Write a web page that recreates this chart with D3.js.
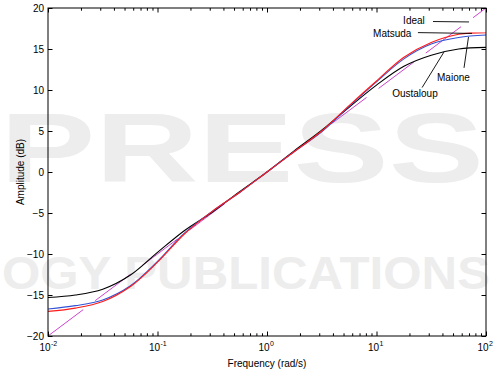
<!DOCTYPE html>
<html>
<head>
<meta charset="utf-8">
<title>Amplitude</title>
<script src="https://cdn.jsdelivr.net/npm/d3@7"></script>
<style>
	body { margin: 0; background: #fff; }
	text { font-family: "Liberation Sans", Arial, sans-serif; }
</style>
</head>
<body>
<div id="chart"></div>
<script>
(function(){
	"use strict";

	// frequency grid (rad/s), quarter decades
	var freq = [0.01, 0.0178, 0.0316, 0.0562, 0.1, 0.178, 0.316, 0.562, 1, 1.78, 3.16, 5.62, 10, 17.8, 31.6, 56.2, 100];

	// amplitude (dB) of each approximation
	var oustaloup = [-15.3, -15.0, -14.3, -12.6, -9.8, -7.1, -4.9, -2.4, 0, 2.6, 5.1, 7.9, 10.6, 12.9, 14.25, 15.0, 15.2];
	var maione    = [-16.7, -16.3, -15.6, -13.9, -10.9, -7.4, -4.8, -2.5, 0, 2.5, 4.9, 8.0, 11.0, 13.8, 15.6, 16.4, 16.7];
	var matsuda   = [-17.0, -16.6, -15.8, -14.0, -11.0, -7.5, -4.8, -2.5, 0, 2.5, 5.0, 8.1, 11.1, 14.0, 15.8, 16.8, 17.0];

	// ideal response
	var idealFreq = [0.01, 100];
	var idealAmp = [-20, 20];

	// ticks
	var yTicks = [-20, -15, -10, -5, 0, 5, 10, 15, 20];
	var xTickExp = [-2, -1, 0, 1, 2];

	// annotations: label, text pos, leader from, leader to (freq, dB)
	var notes = [
		{ name: "Ideal",     at: [17.5, 18.0],  from: [32.8, 18.35], to: [70, 18.3] },
		{ name: "Matsuda",   at: [9.3, 16.46],  from: [23.9, 17.0],  to: [74.5, 16.9] },
		{ name: "Maione",    at: [35.7, 11.04], from: [63, 12.7],    to: [69.2, 16.46] },
		{ name: "Oustaloup", at: [13.9, 9.09],  from: [26.1, 10.3],  to: [41.3, 14.63] }
	];

	var W = 494, H = 374;
	var margin = { top: 8, right: 8, bottom: 38, left: 48 };
	var width = W - margin.left - margin.right;
	var height = H - margin.top - margin.bottom;

	var svg = d3.select("#chart").append("svg")
		.attr("width", W)
		.attr("height", H);

	// faint watermark behind the plot
	svg.append("text")
		.attr("x", 0).attr("y", 182)
		.attr("textLength", 484)
		.attr("lengthAdjust", "spacingAndGlyphs")
		.style("font-size", "98px").style("font-weight", "bold")
		.style("fill", "#ededed")
		.text("PRESS");
	svg.append("text")
		.attr("x", 2).attr("y", 289)
		.attr("textLength", 488)
		.attr("lengthAdjust", "spacingAndGlyphs")
		.style("font-size", "46px").style("font-weight", "bold")
		.style("fill", "#ededed")
		.text("OGY PUBLICATIONS");

	var g = svg.append("g")
		.attr("transform", "translate(" + margin.left + "," + margin.top + ")");

	var x = d3.scaleLog().domain([0.01, 100]).range([0, width]);
	var y = d3.scaleLinear().domain([-20, 20]).range([height, 0]);

	// minor ticks 2..9 of each decade
	var minor = [];
	xTickExp.slice(0, -1).forEach(function(e){
		for (var k = 2; k <= 9; k++) minor.push(k * Math.pow(10, e));
	});
	var major = xTickExp.map(function(e){ return Math.pow(10, e); });

	g.append("defs").append("clipPath").attr("id", "clip")
		.append("rect").attr("width", width).attr("height", height);

	var line = d3.line()
		.x(function(d){ return x(d[0]); })
		.y(function(d){ return y(d[1]); })
		.curve(d3.curveCatmullRom.alpha(0.5));

	var plot = g.append("g").attr("clip-path", "url(#clip)");

	plot.append("path")
		.datum(d3.zip(idealFreq, idealAmp))
		.attr("d", line)
		.attr("fill", "none")
		.attr("stroke", "#cc44cc")
		.attr("stroke-width", 1)
		.attr("stroke-dasharray", "44,15");

	var series = [
		{ values: oustaloup, color: "#000000" },
		{ values: maione, color: "#3352d6" },
		{ values: matsuda, color: "#ff1a1a" }
	];
	series.forEach(function(s){
		plot.append("path")
			.datum(d3.zip(freq, s.values))
			.attr("d", line)
			.attr("fill", "none")
			.attr("stroke", s.color)
			.attr("stroke-width", 1.1);
	});

	function style(ax){
		ax.select(".domain").remove();
		ax.selectAll("line").attr("stroke", "#000");
		ax.selectAll("text").style("font-size", "10px").attr("fill", "#000");
	}

	// left / right axes
	var yl = g.append("g").call(d3.axisLeft(y).tickValues(yTicks).tickSize(-4.5).tickPadding(4));
	style(yl);
	var yr = g.append("g").attr("transform", "translate(" + width + ",0)")
		.call(d3.axisRight(y).tickValues(yTicks).tickSize(-4.5).tickFormat(""));
	style(yr);

	// bottom / top axes, major and minor
	var xb = g.append("g").attr("transform", "translate(0," + height + ")")
		.call(d3.axisBottom(x).tickValues(major).tickSize(-4.5).tickFormat(""));
	style(xb);
	var xbm = g.append("g").attr("transform", "translate(0," + height + ")")
		.call(d3.axisBottom(x).tickValues(minor).tickSize(-2.7).tickFormat(""));
	style(xbm);
	var xt = g.append("g")
		.call(d3.axisTop(x).tickValues(major).tickSize(-4.5).tickFormat(""));
	style(xt);
	var xtm = g.append("g")
		.call(d3.axisTop(x).tickValues(minor).tickSize(-2.7).tickFormat(""));
	style(xtm);

	// 10^n labels
	var lab = xb.selectAll(".tick").data(xTickExp);
	lab.append("text")
		.attr("x", 2).attr("y", 15)
		.attr("text-anchor", "end")
		.attr("fill", "#000")
		.style("font-size", "10px")
		.text("10");
	lab.append("text")
		.attr("x", 2.5).attr("y", 9.5)
		.attr("text-anchor", "start")
		.attr("fill", "#000")
		.style("font-size", "7px")
		.text(function(d){ return d; });

	// box
	g.append("rect")
		.attr("width", width).attr("height", height)
		.attr("fill", "none").attr("stroke", "#000").attr("stroke-width", 1);

	// annotations
	notes.forEach(function(n){
		g.append("line")
			.attr("x1", x(n.from[0])).attr("y1", y(n.from[1]))
			.attr("x2", x(n.to[0])).attr("y2", y(n.to[1]))
			.attr("stroke", "#000").attr("stroke-width", 0.9);
		g.append("text")
			.attr("x", x(n.at[0])).attr("y", y(n.at[1]))
			.style("font-size", "10px")
			.text(n.name);
	});

	// axis titles
	svg.append("text")
		.attr("x", margin.left + width / 2).attr("y", 367)
		.attr("text-anchor", "middle")
		.style("font-size", "10px")
		.text("Frequency (rad/s)");
	svg.append("text")
		.attr("transform", "translate(23.5," + (margin.top + height / 2) + ") rotate(-90)")
		.attr("text-anchor", "middle")
		.style("font-size", "10px")
		.text("Amplitude (dB)");
})();
</script>
</body>
</html>
